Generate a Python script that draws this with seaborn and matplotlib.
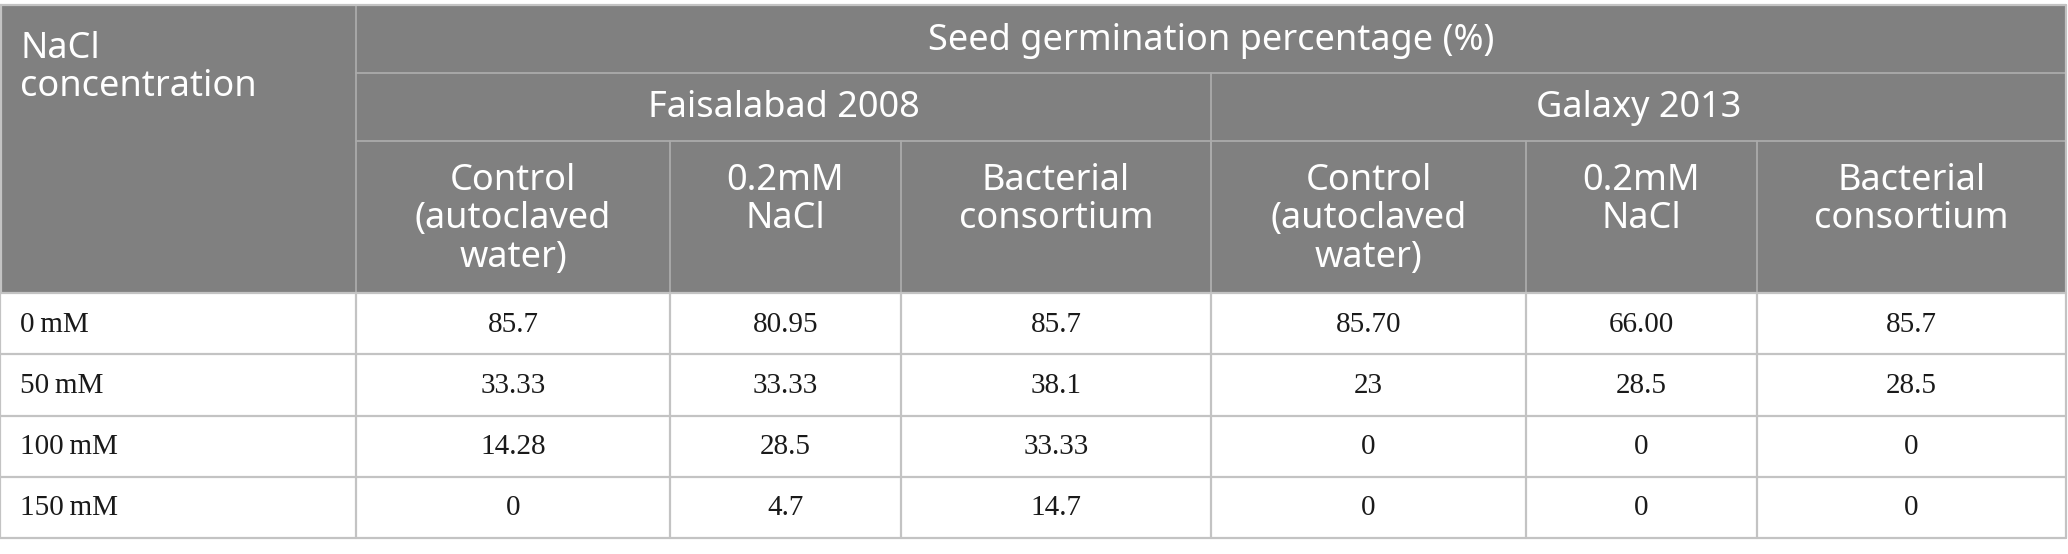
import matplotlib
matplotlib.use("Agg")
import matplotlib.pyplot as plt
from matplotlib.patches import Rectangle
import seaborn as sns

# Table content
title = "Seed germination percentage (%)"
row_header = "NaCl\nconcentration"
cultivars = ["Faisalabad 2008", "Galaxy 2013"]
treatments = ["Control\n(autoclaved\nwater)", "0.2mM\nNaCl", "Bacterial\nconsortium"]
concentrations = ["0\u2009mM", "50\u2009mM", "100\u2009mM", "150\u2009mM"]

fsd_control = ["85.7", "33.33", "14.28", "0"]
fsd_nacl = ["80.95", "33.33", "28.5", "4.7"]
fsd_bact = ["85.7", "38.1", "33.33", "14.7"]
gal_control = ["85.70", "23", "0", "0"]
gal_nacl = ["66.00", "28.5", "0", "0"]
gal_bact = ["85.7", "28.5", "0", "0"]

columns = [fsd_control, fsd_nacl, fsd_bact, gal_control, gal_nacl, gal_bact]

sns.set_theme(style="white")
plt.rcParams["font.family"] = ["Noto Sans", "DejaVu Sans"]

W, H = 2068, 554
fig = plt.figure(figsize=(W / 100, H / 100), dpi=100)
ax = fig.add_axes([0, 0, 1, 1])
ax.set_xlim(0, W)
ax.set_ylim(H, 0)
ax.axis("off")

# layout (pixels)
xs = [0, 356, 670, 901, 1211, 1526, 1757, 2066]
top, h1, h2, hb = 5, 73, 141, 293
row_h = (538 - hb) / len(concentrations)
head_col = "#808080"
head_line = "#ababab"
body_line = "#c3c3c3"
hfont = dict(color="white", fontsize=26, family=["Noto Sans", "DejaVu Sans"])
dfont = dict(color="#1a1a1a", fontsize=21, family=["Liberation Serif", "DejaVu Serif"])

ax.add_patch(Rectangle((xs[0], top), xs[-1] - xs[0], hb - top, color=head_col, lw=0))

# header lines
lw = 1.3
ax.plot([xs[1], xs[1]], [top, hb], color=head_line, lw=lw)
ax.plot([xs[1], xs[-1]], [h1, h1], color=head_line, lw=lw)
ax.plot([xs[1], xs[-1]], [h2, h2], color=head_line, lw=lw)
ax.plot([xs[4], xs[4]], [h1, hb], color=head_line, lw=lw)
for x in xs[2:-1]:
    ax.plot([x, x], [h2, hb], color=head_line, lw=lw)

# header texts
ax.text(20, top + 26, row_header, ha="left", va="top", linespacing=1.09, **hfont)
ax.text((xs[1] + xs[-1]) / 2, (top + h1) / 2 + 2, title, ha="center", va="center", **hfont)
for i, name in enumerate(cultivars):
    x0, x1 = xs[1 + 3 * i], xs[4 + 3 * i]
    ax.text((x0 + x1) / 2, (h1 + h2) / 2 + 1, name, ha="center", va="center", **hfont)
for j in range(6):
    t = treatments[j % 3]
    ax.text((xs[j + 1] + xs[j + 2]) / 2, h2 + 22, t, ha="center", va="top",
            linespacing=1.09, **hfont)

# body
for r, conc in enumerate(concentrations):
    yc = hb + row_h * (r + 0.5) + 1
    ax.text(20, yc, conc, ha="left", va="center", **dfont)
    for j, col in enumerate(columns):
        ax.text((xs[j + 1] + xs[j + 2]) / 2, yc, col[r], ha="center", va="center", **dfont)
    yb = hb + row_h * (r + 1)
    ax.plot([xs[0], xs[-1]], [yb, yb], color=body_line, lw=1.6)
for x in xs:
    ax.plot([x, x], [hb, 538], color=body_line, lw=1.6)
ax.plot([xs[0], xs[-1]], [hb, hb], color=body_line, lw=1.6)
ax.plot([xs[0], xs[-1]], [top, top], color=body_line, lw=1.6)
ax.plot([xs[-1], xs[-1]], [top, hb], color=body_line, lw=1.6)
ax.plot([xs[0] + 1, xs[0] + 1], [top, hb], color=body_line, lw=1.6)

fig.savefig("out.png", dpi=100, facecolor="white")
